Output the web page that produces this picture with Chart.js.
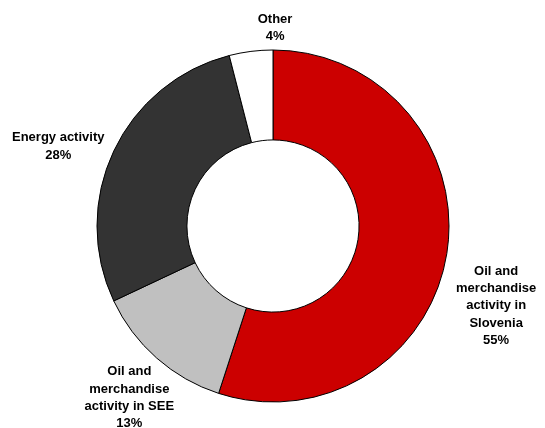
<!DOCTYPE html>
<html>
<head>
<meta charset="utf-8">
<script src="https://cdn.jsdelivr.net/npm/chart.js@4/dist/chart.umd.min.js"></script>
<style>
  html, body { margin: 0; padding: 0; background: #ffffff; }
  #wrap { width: 545px; height: 428px; }
</style>
</head>
<body>
<div id="wrap"><canvas id="chart" width="545" height="428"></canvas></div>
<script>
// Revenue structure by activity, share in percent
const categories = [
  'Oil and merchandise activity in Slovenia',
  'Oil and merchandise activity in SEE',
  'Energy activity',
  'Other'
];
const shares = [55, 13, 28, 4];

// Wrapped category names as shown beside each slice
const labelLines = [
  ['Oil and', 'merchandise', 'activity in', 'Slovenia'],
  ['Oil and', 'merchandise', 'activity in SEE'],
  ['Energy activity'],
  ['Other']
];

const sliceColors = ['#CC0000', '#C0C0C0', '#333333', '#FFFFFF'];

// Label placement relative to each slice: angular shift (degrees) from the
// slice's mid angle, and distance beyond the outer edge (px)
const labelPlacement = [
  { shift: 10.7, gap: 61 },
  { shift: -1.5, gap: 48 },
  { shift: -4.9, gap: 53 },
  { shift: 7.8, gap: 22 }
];

const outsideLabels = {
  id: 'outsideLabels',
  afterDatasetsDraw(chart) {
    const ctx = chart.ctx;
    const meta = chart.getDatasetMeta(0);
    const total = shares.reduce((a, b) => a + b, 0);
    const lineH = 17.3;
    ctx.save();
    ctx.font = 'bold 13px "Liberation Sans", Arial, sans-serif';
    ctx.fillStyle = '#000000';
    ctx.textAlign = 'center';
    ctx.textBaseline = 'middle';
    meta.data.forEach((arc, i) => {
      const p = arc.getProps(['x', 'y', 'startAngle', 'endAngle', 'outerRadius'], true);
      const place = labelPlacement[i];
      const mid = (p.startAngle + p.endAngle) / 2 + place.shift * Math.PI / 180;
      const dist = p.outerRadius + place.gap;
      const cx = p.x + Math.cos(mid) * dist;
      const cy = p.y + Math.sin(mid) * dist;
      const lines = labelLines[i].concat([Math.round(shares[i] / total * 100) + '%']);
      const top = cy - (lines.length - 1) * lineH / 2;
      lines.forEach((t, k) => ctx.fillText(t, cx, top + k * lineH));
    });
    ctx.restore();
  }
};

new Chart(document.getElementById('chart'), {
  type: 'doughnut',
  data: {
    labels: categories,
    datasets: [{
      data: shares,
      backgroundColor: sliceColors,
      borderColor: '#000000',
      borderWidth: 1
    }]
  },
  options: {
    responsive: false,
    animation: false,
    radius: 176,
    cutout: '48.9%',
    rotation: 0,
    layout: { padding: { top: 34, bottom: 10, left: 1, right: 0 } },
    plugins: {
      legend: { display: false },
      tooltip: { enabled: false }
    }
  },
  plugins: [outsideLabels]
});
</script>
</body>
</html>
